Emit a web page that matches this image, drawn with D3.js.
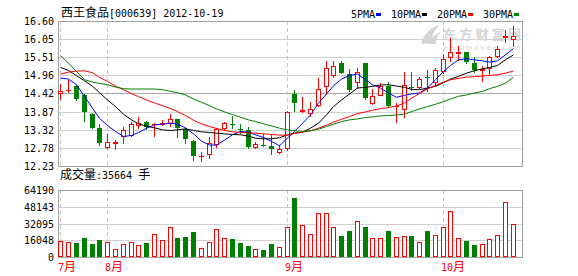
<!DOCTYPE html>
<html>
<head>
<meta charset="utf-8">
<script src="https://cdn.jsdelivr.net/npm/d3@7"></script>
<style>
  body { margin: 0; background: #fff; }
  svg text { font-family: "DejaVu Sans Mono", monospace; font-size: 10px; }
  .cjk { font-family: "Noto Sans CJK SC", sans-serif; font-size: 12px; }
</style>
</head>
<body>
<div id="chart"></div>
<script>

// trading days, 2012
var dates = ["07-24","07-25","07-26","07-27","07-30","07-31",
  "08-01","08-02","08-03","08-06","08-07","08-08","08-09","08-10","08-13","08-14","08-15","08-16",
  "08-17","08-20","08-21","08-22","08-23","08-24","08-27","08-28","08-29","08-30","08-31",
  "09-03","09-04","09-05","09-06","09-07","09-10","09-11","09-12","09-13","09-14","09-17",
  "09-18","09-19","09-20","09-21","09-24","09-25","09-26","09-27","09-28",
  "10-08","10-09","10-10","10-11","10-12","10-15","10-16","10-17","10-18","10-19"];

var open  = [14.42,14.52,14.63,14.36,13.81,13.37,12.80,12.92,13.12,13.15,13.47,13.55,13.49,13.50,13.54,
  13.64,13.34,12.98,12.52,12.58,12.88,13.39,13.51,13.35,13.31,12.80,12.86,12.83,12.66,12.76,
  14.40,13.89,13.84,14.07,14.65,14.96,15.33,15.00,14.76,15.33,14.14,14.38,14.63,14.03,13.94,
  14.61,14.60,14.91,14.75,15.08,15.50,15.65,15.66,15.33,15.12,15.18,15.56,16.13,16.07];
var high  = [14.71,14.83,14.68,14.40,13.84,13.49,13.18,13.02,13.42,13.55,13.72,13.60,13.53,13.63,13.79,
  13.66,13.38,13.00,12.65,13.09,13.37,13.56,13.73,13.51,13.41,12.95,13.20,13.17,12.86,13.88,
  14.53,14.31,14.17,14.88,15.40,15.40,15.40,15.16,15.18,15.34,14.55,14.73,14.75,14.12,15.05,
  15.05,14.90,15.13,15.18,15.60,16.09,15.84,15.68,15.50,15.23,15.56,15.84,16.34,16.44];
var low   = [14.24,14.46,14.22,13.59,13.37,12.87,12.77,12.74,12.91,13.13,13.39,13.36,13.14,13.46,13.44,
  13.11,12.91,12.42,12.38,12.47,12.80,13.32,13.39,13.23,12.78,12.78,12.84,12.59,12.61,12.72,
  13.89,13.87,13.74,14.05,14.40,14.90,15.02,14.50,14.58,14.24,14.10,14.36,14.02,13.57,13.72,
  14.53,14.58,14.48,14.66,15.03,15.40,15.43,15.33,15.06,14.78,14.98,15.53,15.97,15.84];
var close = [14.50,14.53,14.24,13.87,13.39,12.92,12.94,12.94,13.30,13.51,13.54,13.41,13.51,13.52,13.66,
  13.38,13.03,12.54,12.54,12.92,13.36,13.53,13.46,13.31,12.80,12.88,12.85,12.75,12.73,13.87,
  14.14,13.91,13.94,14.55,15.18,15.23,15.03,14.53,15.06,14.29,14.33,14.63,14.04,14.05,14.68,
  14.59,14.85,14.89,15.13,15.46,15.66,15.67,15.35,15.13,15.14,15.50,15.75,16.15,16.14];

var volume = [14937,13983,13030,17797,12077,15890,13983,7309,12712,14619,11759,13030,22246,16526,28920,
  17797,18750,23518,8263,14619,27013,17797,16843,13030,10170,7309,6356,12077,9216,28920,
  56251,30826,22246,42267,42267,28920,19703,24470,34640,28920,18432,18432,24470,19385,20339,
  20339,14619,24470,21292,28920,44491,18432,15572,11123,12712,17479,21292,53073,31400];

var ma5  = [14.88,14.85,14.68,14.33,13.97,13.67,13.45,13.27,13.12,13.15,13.24,13.37,13.47,13.49,13.52,
  13.49,13.38,13.20,12.98,12.86,12.86,13.01,13.17,13.27,13.25,13.17,13.09,12.97,12.84,13.07,
  13.27,13.52,13.77,14.12,14.40,14.65,14.85,14.96,15.00,14.83,14.68,14.58,14.43,14.30,14.36,
  14.40,14.43,14.58,14.83,15.08,15.26,15.43,15.46,15.43,15.40,15.36,15.40,15.58,15.77];
var ma10 = [15.20,15.11,14.95,14.80,14.63,14.44,14.22,14.02,13.79,13.62,13.50,13.43,13.38,13.32,13.30,
  13.32,13.35,13.30,13.26,13.24,13.22,13.20,13.18,13.17,13.13,13.07,13.05,13.05,13.08,13.17,
  13.22,13.25,13.37,13.52,13.77,14.02,14.22,14.40,14.58,14.60,14.63,14.67,14.68,14.64,14.60,
  14.54,14.53,14.58,14.63,14.74,14.85,14.93,15.03,15.10,15.16,15.20,15.26,15.43,15.58];
var ma20 = [15.00,15.06,15.09,15.10,15.04,14.90,14.78,14.64,14.53,14.41,14.32,14.22,14.13,14.05,13.96,
  13.87,13.75,13.61,13.50,13.42,13.36,13.30,13.26,13.24,13.23,13.22,13.20,13.18,13.16,13.16,
  13.21,13.25,13.29,13.37,13.46,13.55,13.64,13.72,13.81,13.86,13.91,13.96,13.99,14.04,14.13,
  14.27,14.42,14.55,14.66,14.76,14.83,14.87,14.91,14.92,14.94,14.96,14.98,15.03,15.09];
var ma30 = [15.56,15.33,15.08,14.83,14.76,14.72,14.68,14.61,14.56,14.55,14.55,14.55,14.55,14.53,14.48,
  14.44,14.37,14.25,14.15,14.05,13.95,13.86,13.78,13.70,13.62,13.57,13.50,13.44,13.37,13.32,
  13.29,13.27,13.29,13.34,13.42,13.49,13.57,13.62,13.65,13.69,13.71,13.74,13.75,13.77,13.79,
  13.87,13.95,14.02,14.09,14.17,14.25,14.33,14.37,14.43,14.48,14.56,14.63,14.73,14.90];

var priceTicks = [12.23, 12.78, 13.32, 13.87, 14.42, 14.96, 15.51, 16.05, 16.60];
var volTicks = [0, 16048, 32095, 48143, 64190];

var maNames  = ["5PMA", "10PMA", "20PMA", "30PMA"];
var maColors = ["#0000ff", "#000000", "#ff0000", "#008000"];
var maSeries = [ma5, ma10, ma20, ma30];

var lastVolume = 35664;

var W = 578, H = 276;
var left = 58, right = 522;
var upColor = "#ff0000", downColor = "#008000";

var svg = d3.select("#chart").append("svg")
    .attr("width", W).attr("height", H);

var x = d3.scaleBand().domain(dates).range([57, 517.2])
    .paddingInner(0.3).paddingOuter(0.15);
var y = d3.scaleLinear().domain([12.23, 16.60]).range([166, 21]);
var yv = d3.scaleLinear().domain([0, 64190]).range([257, 190]);

function cx(d){ return Math.floor(x(d) + x.bandwidth() / 2); }
function snap(v){ return Math.round(v) + 0.5; }

var days = dates.map(function(d, i){
  return {date: d, o: open[i], h: high[i], l: low[i], c: close[i], v: volume[i], up: close[i] >= open[i]};
});

// month starts
var months = days.filter(function(d, i){
  return i == 0 || d.date.slice(0, 2) != dates[i - 1].slice(0, 2);
});

// ---------- grid + frames ----------
var grid = svg.append("g");

grid.selectAll("line.ph").data(priceTicks.slice(1, -1)).enter().append("line")
    .attr("x1", left).attr("x2", right)
    .attr("y1", function(d){ return snap(y(d)); })
    .attr("y2", function(d){ return snap(y(d)); })
    .attr("stroke", function(d){ return d == 14.42 ? "#aaa" : "#d0d0d0"; });

grid.selectAll("line.vh").data(volTicks.slice(1, -1)).enter().append("line")
    .attr("x1", left).attr("x2", right)
    .attr("y1", function(d){ return snap(yv(d)); })
    .attr("y2", function(d){ return snap(yv(d)); })
    .attr("stroke", "#d0d0d0");

[[y(16.60), y(12.23)], [yv(64190), yv(0)]].forEach(function(r){
  grid.selectAll(null).data(months).enter().append("line")
      .attr("x1", function(d){ return cx(d.date) + 0.5; })
      .attr("x2", function(d){ return cx(d.date) + 0.5; })
      .attr("y1", r[0]).attr("y2", r[1])
      .attr("stroke", "#c8c8c8").attr("stroke-dasharray", "4,3");

  grid.append("rect")
      .attr("x", left + 0.5).attr("y", snap(r[0]))
      .attr("width", right - left).attr("height", Math.round(r[1] - r[0]))
      .attr("fill", "none").attr("stroke", "#a0a0a0");
});

// watermark
var wm = svg.append("g").attr("fill", "#d4d4d4");
wm.append("path")
    .attr("d", "M421,44 C424,34 430,27 440,25 C434,30 431,36 432,43 Z M428,44 C431,37 436,33 441,32 C437,36 436,40 436,44 Z");
wm.append("text").attr("class", "cjk").attr("x", 443).attr("y", 39)
    .style("font-size", "13px").style("font-weight", "bold")
    .attr("textLength", 78).text("东方财富网");
wm.append("text").attr("x", 444).attr("y", 50)
    .style("font-size", "7px").style("font-family", "Liberation Sans, sans-serif")
    .attr("textLength", 76).text("eastmoney.com");

// ---------- candles ----------
var candles = svg.append("g").selectAll("g").data(days).enter().append("g");

candles.append("line")
    .attr("x1", function(d){ return cx(d.date) + 0.5; })
    .attr("x2", function(d){ return cx(d.date) + 0.5; })
    .attr("y1", function(d){ return Math.round(y(d.h)); })
    .attr("y2", function(d){ return Math.round(y(d.l)) + 1; })
    .attr("stroke", function(d){ return d.up ? upColor : downColor; });

candles.append("rect")
    .attr("x", function(d){ return d.up ? cx(d.date) - 2 + 0.5 : cx(d.date) - 2; })
    .attr("y", function(d){
      var t = Math.round(y(Math.max(d.o, d.c)));
      return d.up ? t + 0.5 : t;
    })
    .attr("width", function(d){ return d.up ? 4 : 5; })
    .attr("height", function(d){
      var h = Math.round(y(Math.min(d.o, d.c))) - Math.round(y(Math.max(d.o, d.c)));
      return d.up ? Math.max(h, 0.01) : Math.max(h, 1);
    })
    .attr("fill", function(d){ return d.up ? "#fff" : downColor; })
    .attr("stroke", function(d){ return d.up ? upColor : "none"; });

// ---------- moving averages ----------
maSeries.forEach(function(s, k){
  var line = d3.line()
      .x(function(d, i){ return cx(dates[i]) + 0.5; })
      .y(function(d){ return y(d); });
  svg.append("path").datum(s)
      .attr("d", line)
      .attr("fill", "none")
      .attr("stroke", maColors[k])
      .attr("stroke-width", 1);
});

// ---------- volume ----------
svg.append("g").selectAll("rect").data(days).enter().append("rect")
    .attr("x", function(d){ return d.up ? cx(d.date) - 2 + 0.5 : cx(d.date) - 2; })
    .attr("y", function(d){ return d.up ? Math.round(yv(d.v)) + 0.5 : Math.round(yv(d.v)); })
    .attr("width", function(d){ return d.up ? 4 : 5; })
    .attr("height", function(d){
      var h = Math.round(yv(0)) - Math.round(yv(d.v));
      return d.up ? h - 1 : h;
    })
    .attr("fill", function(d){ return d.up ? "#fff" : downColor; })
    .attr("stroke", function(d){ return d.up ? upColor : "none"; });

// ---------- axes labels ----------
svg.append("g").selectAll("text").data(priceTicks).enter().append("text")
    .attr("x", 54).attr("y", function(d){ return y(d) + 4; })
    .attr("text-anchor", "end")
    .text(function(d){ return d.toFixed(2); });

svg.append("g").selectAll("text").data(volTicks).enter().append("text")
    .attr("x", 54).attr("y", function(d){ return yv(d) + 4; })
    .attr("text-anchor", "end")
    .text(function(d){ return d; });

var ml = svg.append("g").selectAll("text").data(months).enter().append("text")
    .attr("x", function(d){ return cx(d.date) - 2; })
    .attr("y", 271)
    .attr("fill", "#ff0000");
ml.append("tspan").text(function(d){ return +d.date.slice(0, 2); });
ml.append("tspan").attr("class", "cjk").text("月");

// title
var title = svg.append("text").attr("x", 61).attr("y", 17);
title.append("tspan").attr("class", "cjk").text("西王食品");
title.append("tspan").text("[000639] 2012-10-19");

// volume caption
var cap = svg.append("text").attr("x", 60).attr("y", 179);
cap.append("tspan").attr("class", "cjk").text("成交量");
cap.append("tspan").text(":" + lastVolume + " ");
cap.append("tspan").attr("class", "cjk").text("手");

// legend
var lx = 351;
maNames.forEach(function(n, k){
  svg.append("text").attr("x", lx).attr("y", 18).text(n);
  svg.append("rect")
      .attr("x", lx + n.length * 6 + 1).attr("y", 13)
      .attr("width", 5).attr("height", 3)
      .attr("fill", maColors[k]);
  lx += n.length * 6 + 16;
});

</script>
</body>
</html>
